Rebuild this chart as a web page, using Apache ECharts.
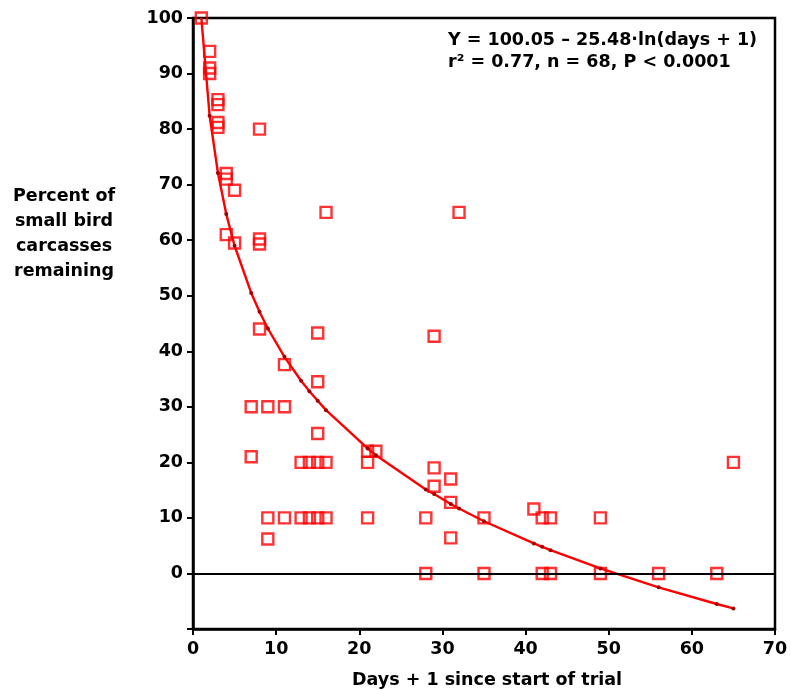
<!DOCTYPE html>
<html>
<head>
<meta charset="utf-8">
<script src="https://cdn.jsdelivr.net/npm/echarts@6/dist/echarts.min.js"></script>
<style>
html,body{margin:0;padding:0;background:#fff;}
#chart{width:791px;height:691px;}
</style>
</head>
<body>
<div id="chart"></div>
<script>
// Observed data: days + 1 since start of trial, percent remaining
const obsDays = [1,2,2,2,3,3,3,3,8,4,4,5,16,32,4,5,8,8,8,15,29,11,15,7,9,11,15,7,13,14,15,16,21,21,22,9,11,13,14,15,16,21,9,29,31,29,31,28,35,41,42,43,49,31,28,35,42,43,49,56,63,65];
const obsPct  = [100,94,91,90,85.3,84.4,81.2,80.3,80,72,71,69,65,65,61,59.5,60.2,59.3,44,43.3,42.7,37.6,34.5,30,30,30,25.2,21,20,20,20,20,22,20,22,10,10,10,10,10,10,10,6.2,19,17,15.7,12.8,10,10,11.6,10,10,10,6.4,0,0,0,0,0,0,0,20];

// Fitted curve values read at each sampled day
const fitDays = [1,2,3,4,5,7,8,9,11,13,14,15,16,21,22,28,29,31,32,35,41,42,43,49,56,63,65];
const fitPct  = [100.05,82.4,72.1,64.7,59.0,50.5,47.1,44.1,39.0,34.7,32.8,31.1,29.4,22.5,21.3,15.1,14.3,12.5,11.7,9.4,5.4,4.8,4.2,0.9,-2.5,-5.5,-6.3];

const xTicks = {min:0, max:70, step:10};
const yTicks = {min:-10, max:100, step:10};

const eqLine1 = 'Y = 100.05 \u2013 25.48\u00b7ln(days + 1)';
const eqLine2 = 'r\u00b2 = 0.77, n = 68, P < 0.0001';
const yTitle = 'Percent of\nsmall bird\ncarcasses\nremaining';
const xTitle = 'Days + 1 since start of trial';

const FONT = '"DejaVu Sans", sans-serif';
const FS = 17.5;
const chart = echarts.init(document.getElementById('chart'), null, {renderer:'canvas'});

chart.setOption({
  animation:false,
  backgroundColor:'#fff',
  grid:{left:193, right:16, top:18, bottom:62, show:true, borderColor:'#000', borderWidth:2.5, backgroundColor:'transparent'},
  xAxis:{
    type:'value', min:xTicks.min, max:xTicks.max, interval:xTicks.step,
    axisLine:{show:true, onZero:false, lineStyle:{color:'#000', width:2.5}},
    axisTick:{show:true, inside:false, length:6, lineStyle:{color:'#000', width:2}},
    axisLabel:{color:'#000', fontFamily:FONT, fontWeight:'bold', fontSize:FS, margin:11},
    splitLine:{show:false}
  },
  yAxis:{
    type:'value', min:yTicks.min, max:yTicks.max, interval:yTicks.step,
    axisLine:{show:true, onZero:false, lineStyle:{color:'#000', width:2.5}},
    axisTick:{show:true, inside:false, length:6, lineStyle:{color:'#000', width:2}},
    axisLabel:{color:'#000', fontFamily:FONT, fontWeight:'bold', fontSize:FS, margin:10,
      formatter:function(v){return v < 0 ? '' : String(v);}},
    splitLine:{show:false}
  },
  series:[
    {
      type:'scatter',
      data:obsDays.map((d,i)=>[d, obsPct[i]]),
      symbol:'rect', symbolSize:11,
      itemStyle:{color:'rgba(255,255,255,0)', borderColor:'#ff0000', borderWidth:2.4},
      z:3,
      markLine:{
        silent:true, symbol:'none', label:{show:false},
        lineStyle:{color:'#000', width:2, type:'solid'},
        data:[{yAxis:0}]
      }
    },
    {
      type:'line',
      data:fitDays.map((d,i)=>[d, fitPct[i]]),
      showSymbol:true, symbol:'circle', symbolSize:4,
      itemStyle:{color:'#a00000'},
      lineStyle:{color:'#ff0000', width:2.4},
      z:4
    }
  ],
  graphic:[
    {type:'text', x:64, y:184, style:{text:yTitle, fontFamily:FONT, fontWeight:'bold', fontSize:FS, lineHeight:25, fill:'#000', textAlign:'center', textVerticalAlign:'top'}},
    {type:'text', x:487, y:680, style:{text:xTitle, fontFamily:FONT, fontWeight:'bold', fontSize:FS, fill:'#000', textAlign:'center', textVerticalAlign:'middle'}},
    {type:'text', x:448, y:40, style:{text:eqLine1, fontFamily:FONT, fontWeight:'bold', fontSize:FS, fill:'#000', textAlign:'left', textVerticalAlign:'middle'}},
    {type:'text', x:448, y:62, style:{text:eqLine2, fontFamily:FONT, fontWeight:'bold', fontSize:FS, fill:'#000', textAlign:'left', textVerticalAlign:'middle'}}
  ]
});
</script>
</body>
</html>
